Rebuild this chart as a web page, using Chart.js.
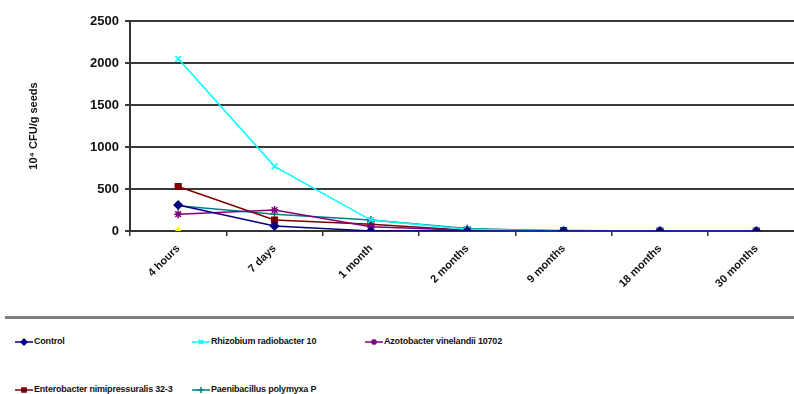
<!DOCTYPE html>
<html>
<head>
<meta charset="utf-8">
<script src="https://cdn.jsdelivr.net/npm/chart.js@4.4.0/dist/chart.umd.min.js"></script>
<style>
  body { margin: 0; width: 794px; height: 394px; overflow: hidden; background: #fff; font-family: "Liberation Sans", Arial, sans-serif; }
  #wrap { position: absolute; left: 0; top: 0; width: 810px; height: 310px; }
  #sep { position: absolute; left: 5px; top: 316px; width: 789px; height: 3px; background: #808080; }
  .leg { position: absolute; font-size: 9px; font-weight: bold; color: #111; white-space: nowrap; letter-spacing: -0.2px; }
  .leg canvas { vertical-align: middle; margin-right: 1px; }
</style>
</head>
<body>
<div id="wrap"><canvas id="myChart"></canvas></div>
<div id="sep"></div>
<div id="legend"></div>
<script>
const categories = ["4 hours", "7 days", "1 month", "2 months", "9 months", "18 months", "30 months"];
const yTicks = [0, 500, 1000, 1500, 2000, 2500];

const control = [310, 60, 0, 0, 0, 0, 0];
const rhizobium = [2050, 770, 130, 20, 0, 0, 0];
const azotobacter = [200, 250, 50, 10, 0, 0, 0];
const enterobacter = [530, 130, 80, 10, 5, 0, 0];
const paenibacillus = [300, 200, 130, 30, 0, 0, 0];
const extra = [0, null, null, null, null, null, null];

const seriesNames = ["Control", "Rhizobium radiobacter 10", "Azotobacter vinelandii 10702", "Enterobacter nimipressuralis 32-3", "Paenibacillus polymyxa P"];
const seriesColors = ["#000080", "#00FFFF", "#800080", "#800000", "#008080"];
const seriesMarkers = ["rectRot", "crossRot", "star", "rect", "cross"];
const seriesData = [control, rhizobium, azotobacter, enterobacter, paenibacillus];

const datasets = seriesData.map((d, i) => ({
  label: seriesNames[i],
  data: d,
  borderColor: seriesColors[i],
  backgroundColor: seriesColors[i],
  pointStyle: seriesMarkers[i],
  pointRadius: 4,
  pointBorderWidth: 1.5,
  borderWidth: 1.5,
  tension: 0,
}));
datasets.push({
  label: "",
  data: extra,
  borderColor: "#FFFF00",
  backgroundColor: "#FFFF00",
  pointStyle: "triangle",
  pointRadius: 4,
  borderWidth: 1.5,
});

new Chart("myChart", {
  type: "line",
  data: { labels: categories, datasets: datasets },
  options: {
    responsive: true,
    maintainAspectRatio: false,
    animation: false,
    layout: { padding: { top: 21, right: 1, left: 27, bottom: 0 } },
    plugins: { legend: { display: false }, tooltip: { enabled: false } },
    scales: {
      x: {
        offset: true,
        grid: { display: true, drawOnChartArea: false, offset: true, drawTicks: true, tickLength: 5, color: "#333", lineWidth: 1.5 },
        border: { color: "#333", width: 2 },
        ticks: {
          color: "#111",
          font: { family: "Liberation Sans", size: 11, weight: "bold" },
          maxRotation: 45,
          minRotation: 45,
          padding: 6,
        },
        afterFit: (scale) => { scale.height = 79; },
      },
      y: {
        min: 0,
        max: 2500,
        afterBuildTicks: (scale) => { scale.ticks = yTicks.map((v) => ({ value: v })); },
        grid: { color: "#3a3a3a", lineWidth: 2, drawTicks: true, tickLength: 5 },
        border: { color: "#333", width: 2 },
        ticks: {
          color: "#111",
          font: { family: "Liberation Sans", size: 13, weight: "bold" },
          padding: 6,
          callback: (v) => String(v),
        },
        title: {
          display: true,
          text: "10\u2074 CFU/g seeds",
          color: "#111",
          font: { family: "Liberation Sans", size: 11, weight: "bold" },
          padding: { top: 0, bottom: 0 },
        },
        afterFit: (scale) => { scale.width = 103; },
      },
    },
  },
});

// legend below the separator line
const legendPos = [[15, 342], [192, 342], [365, 342], [15, 390], [192, 390]];
const legendEl = document.getElementById("legend");
seriesNames.forEach((name, i) => {
  const div = document.createElement("div");
  div.className = "leg";
  div.style.left = legendPos[i][0] + "px";
  div.style.top = (legendPos[i][1] - 6) + "px";
  const c = document.createElement("canvas");
  c.width = 18; c.height = 10;
  const ctx = c.getContext("2d");
  ctx.strokeStyle = seriesColors[i];
  ctx.fillStyle = seriesColors[i];
  ctx.lineWidth = 1.5;
  ctx.beginPath(); ctx.moveTo(0, 5); ctx.lineTo(18, 5); ctx.stroke();
  Chart.helpers.drawPoint(ctx, { pointStyle: seriesMarkers[i], radius: 3, rotation: 0, borderWidth: 1.5 }, 9, 5);
  div.appendChild(c);
  div.appendChild(document.createTextNode(name));
  legendEl.appendChild(div);
});
</script>
</body>
</html>
